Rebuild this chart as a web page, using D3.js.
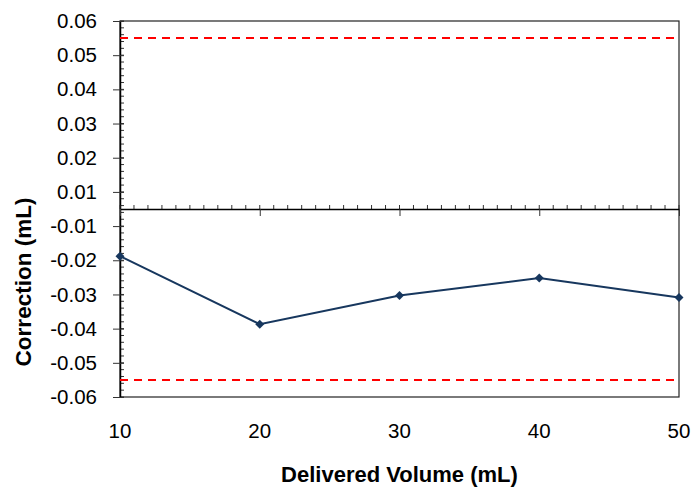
<!DOCTYPE html>
<html>
<head>
  <script src="https://d3js.org/d3.v7.min.js"></script>
  <style>
    body { margin: 0; background: #fff; }
    text { font-family: "Liberation Sans", Arial, sans-serif; fill: #000; }
  </style>
</head>
<body>
  <svg id="chart" width="693" height="489"></svg>
  <script>
    // data
    const volumes = [10, 20, 30, 40, 50];
    const corrections = [-0.0138, -0.0337, -0.0253, -0.0202, -0.0259];
    const limits = [0.05, -0.05];

    // y axis runs -0.055..0.055, labels shown rounded to 2 decimals
    const yTickValues = [-0.055, -0.045, -0.035, -0.025, -0.015, -0.005, 0.005, 0.015, 0.025, 0.035, 0.045, 0.055];
    const yTickLabels = ["-0.06", "-0.05", "-0.04", "-0.03", "-0.02", "-0.01", "0.01", "0.02", "0.03", "0.04", "0.05", "0.06"];
    const xTickValues = [10, 20, 30, 40, 50];

    const svg = d3.select("#chart");
    const margins = { top: 21, right: 14, bottom: 92, left: 120 };
    const width = +svg.attr("width") - margins.left - margins.right;
    const height = +svg.attr("height") - margins.top - margins.bottom;

    const g = svg.append("g")
      .attr("transform", `translate(${margins.left},${margins.top})`);

    const xScale = d3.scaleLinear().domain([10, 50]).range([0, width]);
    const yScale = d3.scaleLinear().domain([-0.055, 0.055]).range([height, 0]);

    // plot border
    g.append("rect")
      .attr("width", width)
      .attr("height", height)
      .attr("fill", "none")
      .attr("stroke", "#222")
      .attr("stroke-width", 1.2);

    // minor ticks on y (inside)
    const yMinor = d3.range(0, 56).map(i => -0.055 + i * 0.002);
    g.append("g")
      .selectAll("line")
      .data(yMinor)
      .join("line")
      .attr("x1", 0).attr("x2", 4)
      .attr("y1", d => yScale(d)).attr("y2", d => yScale(d))
      .attr("stroke", "#333").attr("stroke-width", 1);

    // left axis with crossing major ticks
    const leftAxis = d3.axisLeft(yScale)
      .tickValues(yTickValues)
      .tickFormat((d, i) => yTickLabels[i])
      .tickSizeInner(7)
      .tickSizeOuter(0)
      .tickPadding(16);
    const yAx = g.append("g").call(leftAxis);
    yAx.select(".domain").attr("stroke", "#000").attr("stroke-width", 1.5);
    yAx.selectAll(".tick line").attr("x2", 4).attr("x1", -7).attr("stroke", "#333");
    yAx.selectAll(".tick text")
      .style("font-size", "20.5px")
      .attr("fill", "#000");

    // horizontal axis at zero
    const y0 = yScale(0);
    const xMinor = d3.range(10, 51, 1);
    g.append("g")
      .selectAll("line")
      .data(xMinor)
      .join("line")
      .attr("x1", d => xScale(d)).attr("x2", d => xScale(d))
      .attr("y1", y0).attr("y2", y0 - 4)
      .attr("stroke", "#333").attr("stroke-width", 1);

    const bottomAxis = d3.axisBottom(xScale)
      .tickValues(xTickValues)
      .tickFormat("")
      .tickSizeInner(7)
      .tickSizeOuter(0);
    const xAx = g.append("g")
      .attr("transform", `translate(0,${y0})`)
      .call(bottomAxis);
    xAx.select(".domain").attr("stroke", "#000").attr("stroke-width", 1.5);
    xAx.selectAll(".tick line").attr("stroke", "#333");

    // x tick labels sit below the plot area
    g.append("g")
      .selectAll("text")
      .data(xTickValues)
      .join("text")
      .attr("x", d => xScale(d))
      .attr("y", height + 41)
      .attr("text-anchor", "middle")
      .style("font-size", "20.5px")
      .text(d => d);

    // limit lines
    g.append("g")
      .selectAll("line")
      .data(limits)
      .join("line")
      .attr("x1", 0).attr("x2", width - 4)
      .attr("y1", d => yScale(d)).attr("y2", d => yScale(d))
      .attr("stroke", "#ff0000")
      .attr("stroke-width", 2)
      .attr("stroke-dasharray", "8,6");

    // series
    const pts = volumes.map((v, i) => ({ x: v, y: corrections[i] }));
    const line = d3.line()
      .x(d => xScale(d.x))
      .y(d => yScale(d.y));
    g.append("path")
      .attr("d", line(pts))
      .attr("fill", "none")
      .attr("stroke", "#17375e")
      .attr("stroke-width", 2);

    g.append("g")
      .selectAll("path")
      .data(pts)
      .join("path")
      .attr("d", d3.symbol().type(d3.symbolSquare).size(40))
      .attr("transform", d => `translate(${xScale(d.x)},${yScale(d.y)}) rotate(45)`)
      .attr("fill", "#17375e");

    // axis titles
    svg.append("text")
      .attr("x", margins.left + width / 2)
      .attr("y", 482)
      .attr("text-anchor", "middle")
      .style("font-size", "22px")
      .style("font-weight", "bold")
      .text("Delivered Volume (mL)");

    svg.append("text")
      .attr("transform", "translate(31,282) rotate(-90)")
      .attr("text-anchor", "middle")
      .style("font-size", "22.5px")
      .style("font-weight", "bold")
      .text("Correction (mL)");
  </script>
</body>
</html>
